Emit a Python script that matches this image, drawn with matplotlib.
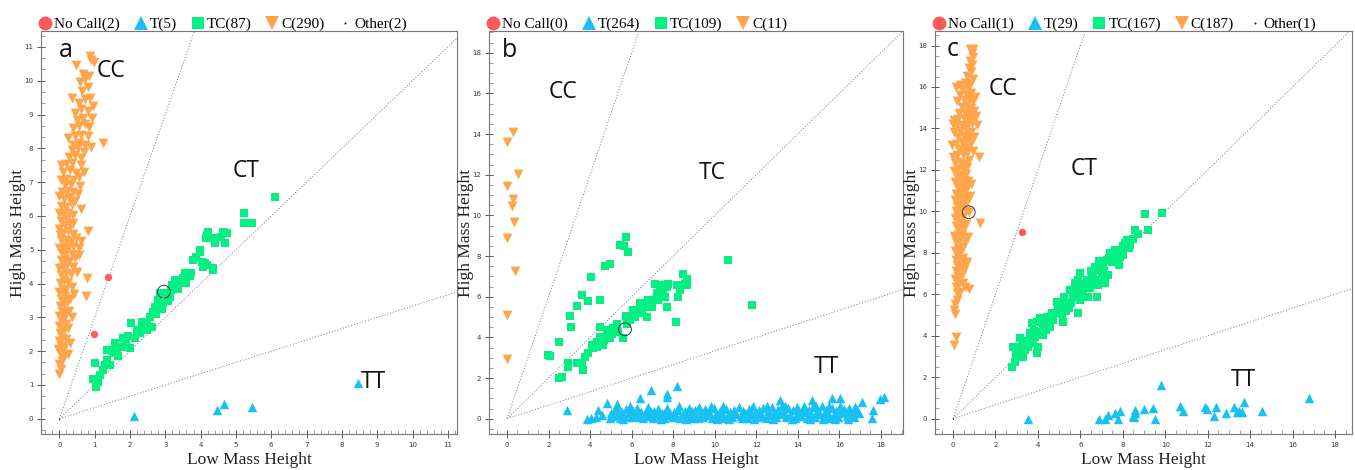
import matplotlib
matplotlib.use('Agg')
import matplotlib.pyplot as plt
from matplotlib.lines import Line2D
from matplotlib.ticker import MultipleLocator

# ---------------- data ----------------
panel_letters = ['a', 'b', 'c']
legend_counts = [
    {'No Call': 2, 'T': 5, 'TC': 87, 'C': 290, 'Other': 2},
    {'No Call': 0, 'T': 264, 'TC': 109, 'C': 11},
    {'No Call': 1, 'T': 29, 'TC': 167, 'C': 187, 'Other': 1},
]
x_ticks = [list(range(0, 12)), list(range(0, 19, 2)), list(range(0, 19, 2))]
y_ticks = [list(range(0, 12)), list(range(0, 19, 2)), list(range(0, 19, 2))]
cluster_slopes = [3.0, 1.0, 1.0 / 3.0]

# Panel a
nocall_a = [(1.37, 4.20), (0.99, 2.50)]
other_a = [(0.0, 0.0), (0.0, 0.0)]
t_a = [(2.10, 0.09), (4.47, 0.26), (4.67, 0.43), (5.46, 0.36), (8.46, 1.07)]
tc_a = [(1.01, 1.64), (0.96, 1.19), (1.03, 0.95), (1.10, 1.10), (1.24, 1.45), (1.34, 1.74),
        (1.43, 1.59), (1.34, 2.03), (1.48, 2.00), (1.57, 2.23), (1.67, 1.85), (1.76, 2.13),
        (1.81, 2.38), (1.90, 2.23), (2.00, 2.08), (2.04, 2.82), (2.19, 2.63), (2.28, 2.53),
        (2.33, 2.87), (2.47, 2.82), (2.56, 3.02), (2.47, 2.63), (2.61, 2.72), (2.71, 3.32),
        (2.80, 3.51), (2.66, 3.17), (2.85, 3.71), (2.94, 3.42), (3.08, 3.47), (3.03, 3.71),
        (3.17, 3.81), (3.27, 4.11), (3.41, 4.01), (3.50, 4.16), (3.60, 4.01), (3.70, 4.21),
        (3.74, 4.31), (3.79, 4.70), (3.88, 4.80), (3.98, 4.99), (4.03, 4.65), (4.12, 4.60),
        (4.17, 5.43), (4.22, 5.53), (4.36, 5.34), (4.36, 4.45), (4.59, 5.39), (4.64, 5.53),
        (4.69, 5.19), (6.10, 6.55), (5.23, 6.08), (5.23, 5.78), (5.46, 5.78), (4.74, 5.51),
        (4.15, 5.34), (4.40, 5.19), (4.07, 4.50), (4.17, 4.55), (4.34, 4.40), (3.98, 4.94),
        (1.15, 1.30), (1.55, 1.95), (1.95, 2.45), (2.15, 2.40), (2.38, 2.70), (2.75, 3.10),
        (2.90, 3.25), (3.12, 3.60), (3.35, 3.85), (3.55, 4.30), (3.20, 3.95), (1.62, 2.05),
        (1.28, 1.60)]
c_a = [(0.00, 1.32), (0.04, 1.48), (-0.02, 1.62), (0.08, 1.70), (0.14, 1.88), (0.24, 1.92),
       (0.02, 1.95), (0.10, 1.80),
       (-0.03, 2.05), (0.05, 2.15), (0.12, 2.10), (0.00, 2.30), (0.08, 2.40), (0.18, 2.35),
       (0.03, 2.55), (0.13, 2.62), (-0.02, 2.75), (0.07, 2.85), (0.20, 2.80), (0.10, 2.95),
       (0.25, 2.70),
       (0.00, 3.05), (0.08, 3.15), (0.18, 3.10), (0.28, 3.20), (0.03, 3.35), (0.14, 3.40),
       (0.22, 3.45), (0.05, 3.55), (0.15, 3.62), (0.30, 3.55), (0.00, 3.75), (0.10, 3.80),
       (0.20, 3.85), (0.75, 3.62), (0.35, 3.90),
       (0.03, 4.02), (0.12, 4.10), (0.25, 4.05), (0.78, 4.15), (0.05, 4.25), (0.18, 4.30),
       (0.32, 4.28), (0.00, 4.45), (0.10, 4.50), (0.22, 4.55), (0.38, 4.48), (0.05, 4.70),
       (0.15, 4.72), (0.28, 4.68), (0.45, 4.75), (0.08, 4.90), (0.20, 4.92), (0.35, 4.88),
       (0.55, 4.85),
       (0.00, 5.05), (0.12, 5.10), (0.25, 5.05), (0.40, 5.12), (0.55, 5.05), (0.05, 5.28),
       (0.18, 5.30), (0.32, 5.25), (0.48, 5.35), (0.82, 5.55), (0.02, 5.45), (0.10, 5.50),
       (0.25, 5.55), (0.38, 5.48), (0.15, 5.72), (0.30, 5.75), (0.05, 5.85), (0.22, 5.90),
       (0.40, 5.80),
       (0.10, 6.05), (0.25, 6.10), (0.40, 6.02), (0.05, 6.30), (0.18, 6.25), (0.35, 6.35),
       (0.12, 6.50), (0.28, 6.55), (0.45, 6.45), (0.08, 6.70), (0.22, 6.75), (0.38, 6.70),
       (0.52, 6.65), (0.15, 6.92), (0.32, 6.95),
       (0.05, 7.05), (0.20, 7.10), (0.40, 7.05), (0.55, 7.15), (0.10, 7.30), (0.30, 7.35),
       (0.48, 7.28), (0.05, 7.52), (0.18, 7.55), (0.35, 7.58), (0.62, 7.50), (0.28, 7.75),
       (0.45, 7.80), (0.60, 7.72), (0.35, 7.95), (0.52, 8.00), (0.70, 7.90),
       (0.38, 8.10), (0.55, 8.15), (0.72, 8.10), (0.90, 8.05), (1.24, 8.16), (0.45, 8.35),
       (0.62, 8.40), (0.80, 8.35), (0.40, 8.60), (0.55, 8.65), (0.72, 8.72), (0.85, 8.62),
       (0.50, 8.85), (0.68, 8.90),
       (0.45, 9.05), (0.62, 9.15), (0.80, 9.10), (0.95, 9.25), (0.55, 9.35), (0.72, 9.45),
       (0.88, 9.50), (0.65, 9.70), (0.80, 9.80), (0.58, 9.95), (0.72, 10.05),
       (0.68, 10.20), (0.85, 10.15), (0.47, 10.45), (0.90, 10.60), (0.99, 10.55), (0.86, 10.72),
       (0.30, 2.25), (0.35, 3.00), (0.42, 3.70), (0.50, 4.35), (0.60, 5.25), (0.62, 6.20),
       (0.58, 6.90), (0.00, 6.10), (0.00, 6.60), (-0.02, 5.60), (0.70, 7.30), (0.25, 8.30),
       (0.35, 9.50), (0.92, 8.90)]
circle_a = (2.96, 3.76)

# Panel b
nocall_b = []
other_b = []
t_b = [(2.91, 0.42), (3.85, 0.00), (4.05, 0.02), (4.30, 0.10), (4.40, 0.42), (4.80, 0.79),
       (5.00, 0.30), (5.10, 0.12), (5.20, 0.45), (5.28, 0.75), (5.35, 0.25), (5.45, 0.05),
       (5.55, 0.35), (5.65, 0.15), (5.75, 0.50), (5.85, 0.28), (5.95, 0.08), (6.05, 0.40),
       (6.15, 0.20), (6.25, 0.55), (6.35, 0.10), (6.41, 1.00), (6.45, 0.32), (6.55, 0.02),
       (6.65, 0.22), (6.75, 0.45), (6.85, 0.15), (6.92, 1.41), (6.95, 0.35), (7.05, 0.05),
       (7.15, 0.25), (7.25, 0.48), (7.35, 0.12), (7.45, 0.30), (7.55, 0.02), (7.65, 0.40),
       (7.72, 1.21), (7.72, 1.05), (7.75, 0.18), (7.85, 0.28), (7.95, 0.08), (8.05, 0.35),
       (8.15, 0.15), (8.17, 1.61), (8.25, 0.45), (8.35, 0.02), (8.45, 0.22), (8.55, 0.38),
       (8.65, 0.10), (8.75, 0.55), (8.85, 0.25), (8.95, 0.05), (9.05, 0.42), (9.15, 0.18),
       (9.25, 0.60), (9.35, 0.30), (9.45, 0.08), (9.55, 0.48), (9.65, 0.20), (9.75, 0.35),
       (9.85, 0.02), (9.95, 0.55), (10.05, 0.25), (10.15, 0.12), (10.25, 0.40), (10.35, 0.30),
       (10.45, 0.05), (10.55, 0.50), (10.65, 0.18), (10.75, 0.35), (10.85, 0.08), (10.95, 0.45),
       (11.05, 0.22), (11.15, 0.60), (11.25, 0.12), (11.35, 0.38), (11.45, 0.28), (11.55, 0.02),
       (11.65, 0.50), (11.75, 0.20), (11.85, 0.65), (11.95, 0.32), (12.05, 0.10), (12.15, 0.45),
       (12.25, 0.25), (12.35, 0.55), (12.45, 0.05), (12.55, 0.38), (12.65, 0.18), (12.75, 0.60),
       (12.85, 0.30), (12.95, 0.10), (13.05, 0.48), (13.15, 0.92), (13.15, 0.22), (13.25, 0.65),
       (13.35, 0.35), (13.45, 0.08), (13.55, 0.52), (13.65, 0.20), (13.75, 0.42), (13.85, 0.05),
       (13.95, 0.60), (14.05, 0.28), (14.15, 0.12), (14.25, 0.50), (14.35, 0.35), (14.45, 0.02),
       (14.55, 0.45), (14.67, 0.92), (14.65, 0.22), (14.75, 0.58), (14.85, 0.10), (14.95, 0.38),
       (15.05, 0.25), (15.15, 0.62), (15.25, 0.15), (15.35, 0.45), (15.45, 0.30), (15.55, 0.05),
       (15.64, 1.00), (15.65, 0.55), (15.75, 0.20), (15.85, 0.40), (15.95, 0.10), (16.04, 1.00),
       (16.05, 0.65), (16.15, 0.28), (16.25, 0.48), (16.35, 0.15), (16.45, 0.55), (16.55, 0.35),
       (16.65, 0.25), (16.75, 0.60), (16.85, 0.45), (17.08, 0.84), (17.56, 0.02), (17.64, 0.43),
       (17.96, 0.95), (18.16, 1.05),
       (4.55, 0.20), (4.95, 0.05), (5.30, 0.58), (5.60, 0.00), (5.90, 0.62), (6.20, 0.35),
       (6.50, 0.15), (6.80, 0.60), (7.10, 0.40), (7.40, 0.00), (7.70, 0.55), (8.00, 0.20),
       (8.30, 0.62), (8.60, 0.00), (8.90, 0.40), (9.20, 0.05), (9.50, 0.30), (9.80, 0.62),
       (10.10, 0.00), (10.40, 0.62), (10.70, 0.00), (11.00, 0.30), (11.30, 0.05), (11.60, 0.35),
       (11.90, 0.00), (12.20, 0.15), (12.50, 0.65), (12.80, 0.00), (13.10, 0.30), (13.40, 0.62),
       (13.70, 0.00), (14.00, 0.45), (14.30, 0.65), (14.60, 0.00), (14.90, 0.65), (15.20, 0.00),
       (15.50, 0.65), (15.80, 0.00), (16.10, 0.45), (16.40, 0.00), (16.70, 0.10), (16.95, 0.30)]
tc_b = [(1.96, 3.13), (2.07, 3.08), (2.52, 1.98), (2.63, 2.06), (2.52, 3.78), (2.95, 2.55),
        (2.95, 2.72), (3.06, 4.52), (3.03, 5.06), (3.36, 2.72), (3.39, 5.54), (3.60, 6.08),
        (3.92, 5.80), (4.03, 6.98), (4.48, 5.86), (4.72, 7.51), (4.96, 7.60), (5.44, 8.53),
        (5.63, 8.48), (5.73, 8.94), (5.84, 8.19), (3.60, 2.72), (3.64, 2.39), (3.76, 3.05),
        (3.92, 3.21), (4.08, 3.62), (4.32, 3.78), (4.48, 4.03), (4.64, 3.62), (4.80, 4.11),
        (4.96, 3.95), (5.12, 4.44), (5.28, 4.68), (5.57, 3.95), (5.36, 4.27), (5.76, 4.68),
        (5.92, 4.85), (6.05, 5.21), (6.16, 5.01), (6.32, 5.37), (6.48, 5.18), (6.65, 5.50),
        (6.76, 5.01), (6.97, 5.50), (7.04, 5.83), (7.21, 6.16), (7.13, 6.62), (7.37, 6.57),
        (7.45, 6.29), (7.61, 5.99), (7.69, 6.49), (7.77, 6.65), (7.69, 5.50), (8.17, 6.57),
        (8.25, 5.99), (8.33, 6.32), (8.14, 4.75), (8.46, 7.14), (8.57, 6.65), (8.65, 6.89),
        (8.68, 6.57), (4.48, 4.52), (4.88, 4.36), (4.16, 3.46), (4.35, 3.54), (4.67, 3.87),
        (5.04, 4.19), (5.20, 4.36), (5.73, 5.04), (6.08, 5.34), (6.40, 5.67), (6.81, 5.86),
        (7.29, 5.83), (7.53, 6.35), (10.65, 7.81), (11.80, 5.58)]
c_b = [(0.27, 14.10), (-0.02, 13.60), (0.55, 12.02), (-0.02, 11.43), (0.27, 10.83),
       (0.24, 10.47), (0.34, 9.66), (-0.02, 8.91), (0.37, 7.26), (-0.02, 5.08), (-0.02, 2.93)]
circle_b = (5.68, 4.40)

# Panel c
nocall_c = [(3.26, 9.00)]
other_c = [(0.0, 0.0)]
t_c = [(3.52, 0.00), (6.90, 0.00), (7.16, 0.00), (7.32, 0.18), (7.64, 0.29), (7.79, 0.00),
       (7.87, 0.37), (8.53, 0.06), (8.58, 0.42), (8.58, 0.29), (9.00, 0.47), (9.41, 0.53),
       (9.54, 0.00), (9.82, 1.62), (10.70, 0.63), (10.82, 0.39), (11.87, 0.58), (11.95, 0.45),
       (12.31, 0.14), (12.39, 0.58), (12.86, 0.29), (13.25, 0.58), (13.37, 0.34), (13.49, 0.39),
       (13.60, 0.34), (13.71, 0.82), (14.54, 0.39), (16.79, 0.98), (8.50, 0.15)]
tc_c = [(2.76, 2.51), (2.92, 2.75), (2.84, 3.47), (3.16, 3.87), (3.31, 2.99), (3.55, 3.47),
        (3.78, 3.64), (4.02, 3.47), (3.86, 3.95), (4.25, 4.03), (3.70, 4.60), (3.94, 4.68),
        (4.57, 4.44), (4.73, 4.76), (4.41, 4.92), (4.80, 5.08), (5.20, 4.68), (4.88, 5.65),
        (5.36, 5.57), (5.67, 5.89), (5.90, 5.08), (5.98, 5.73), (5.51, 6.21), (5.90, 6.69),
        (5.98, 7.02), (6.37, 5.89), (6.45, 6.29), (6.77, 6.69), (6.61, 7.02), (6.92, 7.18),
        (7.16, 6.53), (7.08, 7.34), (7.32, 6.93), (7.24, 7.66), (7.40, 7.98), (7.48, 7.58),
        (7.63, 8.15), (7.87, 7.82), (7.84, 7.42), (8.02, 8.31), (8.10, 8.47), (8.31, 8.23),
        (8.49, 8.67), (8.57, 9.12), (9.20, 9.09), (9.04, 9.85), (9.83, 9.93), (6.14, 6.21),
        (6.29, 6.69), (6.77, 5.89), (5.75, 6.53), (5.04, 5.24), (4.25, 4.44), (4.10, 4.84),
        (3.63, 4.11), (3.31, 3.64), (3.08, 3.15), (3.94, 3.15), (3.00, 3.30), (3.40, 3.30),
        (3.70, 3.90), (4.40, 4.30), (4.65, 5.10), (5.10, 5.50), (5.30, 5.20), (5.55, 5.60),
        (5.80, 6.00), (6.20, 6.50), (6.55, 6.80), (6.90, 7.60), (7.00, 6.90), (7.70, 8.00),
        (8.20, 8.60), (8.00, 7.90), (6.00, 6.10), (6.50, 7.10),
        (2.95, 3.05), (3.20, 3.45), (3.45, 3.75), (3.80, 4.25), (4.05, 4.20), (4.30, 4.65),
        (4.55, 4.90), (4.95, 5.30), (5.25, 5.85), (5.45, 5.35), (5.70, 6.20), (6.05, 6.45),
        (6.40, 6.60), (6.70, 7.30), (7.10, 7.10), (7.35, 7.75), (7.55, 7.80), (7.95, 8.05),
        (8.35, 8.40), (8.70, 8.90), (5.15, 5.05), (4.50, 4.55), (3.50, 3.60), (6.85, 6.45)]
c_c = [(0.06, 3.55), (0.13, 3.95), (0.09, 5.05), (0.06, 5.25), (0.10, 5.55), (0.18, 5.70),
       (0.20, 6.05), (0.35, 6.10), (0.55, 6.35), (0.15, 6.35), (0.28, 6.50), (0.45, 6.55),
       (0.10, 6.75), (0.25, 6.85), (0.40, 6.95), (0.15, 7.10), (0.30, 7.20), (0.50, 7.15),
       (0.20, 7.40), (0.38, 7.45), (0.55, 7.35), (0.12, 7.65), (0.28, 7.70), (0.45, 7.75),
       (0.20, 7.95), (0.35, 8.00), (0.75, 6.25), (0.65, 7.55),
       (0.10, 8.10), (0.25, 8.20), (0.45, 8.30), (0.15, 8.50), (0.35, 8.60), (0.55, 8.55),
       (0.05, 8.80), (0.22, 8.85), (0.40, 8.90), (0.30, 9.10), (0.50, 9.20), (0.15, 9.30),
       (0.35, 9.45), (0.60, 9.40), (1.27, 9.43), (0.10, 9.70), (0.25, 9.80), (0.45, 9.75),
       (0.15, 10.00), (0.35, 10.05), (0.60, 10.00), (0.75, 9.95), (0.70, 8.75),
       (0.20, 10.25), (0.40, 10.30), (0.58, 10.35), (0.10, 10.55), (0.30, 10.60), (0.50, 10.65),
       (0.70, 10.55), (0.15, 10.85), (0.35, 10.90), (0.55, 10.95), (0.25, 11.15), (0.45, 11.20),
       (0.62, 11.10), (0.10, 11.40), (0.30, 11.45), (0.50, 11.50), (0.70, 11.45), (0.20, 11.70),
       (0.40, 11.75), (0.60, 11.80), (0.05, 11.95), (0.85, 11.30), (0.80, 10.75),
       (0.25, 12.05), (0.45, 12.10), (0.65, 12.15), (0.10, 12.35), (0.35, 12.40), (0.55, 12.30),
       (1.22, 12.60), (0.75, 12.50), (0.20, 12.70), (0.45, 12.75), (0.65, 12.80), (0.30, 13.00),
       (0.55, 13.05), (0.75, 13.10), (0.15, 13.25), (0.40, 13.35), (0.60, 13.40), (0.85, 13.35),
       (0.25, 13.60), (0.50, 13.65), (0.70, 13.70), (0.05, 13.85), (0.35, 13.90), (0.60, 13.95),
       (0.85, 13.85), (0.95, 12.90), (1.00, 13.60), (-0.05, 13.20), (0.00, 12.60),
       (0.15, 14.10), (0.40, 14.15), (0.65, 14.20), (0.90, 14.25), (1.15, 14.15), (0.05, 14.40),
       (0.25, 14.45), (0.50, 14.50), (0.75, 14.40), (0.95, 14.55), (0.30, 14.75), (0.55, 14.80),
       (0.80, 14.70), (1.00, 14.85), (0.40, 15.05), (0.65, 15.10), (0.85, 15.00), (0.20, 15.30),
       (0.50, 15.35), (0.75, 15.40), (0.95, 15.30), (0.35, 15.60), (0.60, 15.65), (0.85, 15.70),
       (0.45, 15.90), (0.70, 15.95), (-0.02, 14.20), (1.10, 14.60), (1.05, 15.50),
       (0.15, 16.00), (0.35, 16.10), (0.55, 16.20), (0.80, 16.15), (0.95, 16.40), (0.65, 16.55),
       (0.85, 16.70), (0.75, 16.90), (0.90, 17.05), (0.80, 17.25), (0.95, 17.45), (0.88, 17.65),
       (0.82, 17.85), (0.95, 17.85)]
circle_c = (0.74, 9.96)

cluster_labels = [
    [('CC', 1.46, 10.29), ('CT', 5.28, 7.33), ('TT', 8.88, 1.09)],
    [('CC', 2.70, 16.07), ('TC', 9.87, 12.10), ('TT', 15.37, 2.54)],
    [('CC', 2.36, 15.90), ('CT', 6.20, 12.05), ('TT', 13.66, 1.87)],
]
letter_pos = [(0.18, 10.90), (0.14, 18.10), (0.00, 17.80)]

# ---------------- styling ----------------
COL = {'No Call': '#FF5A5A', 'T': '#17C1F2', 'TC': '#05F082', 'C': '#FFA54C', 'Other': '#222222'}
MARK = {'No Call': 'o', 'T': '^', 'TC': 's', 'C': 'v', 'Other': '.'}
SIZE = {'No Call': 28, 'T': 46, 'TC': 34, 'C': 50, 'Other': 3}

W, H = 1355, 470
fig = plt.figure(figsize=(W / 100, H / 100), dpi=100)

boxes = [(41, 457), (489, 903), (935, 1352)]
top_px, bot_px = 31, 434
limits = [((-0.52, 11.26), (-0.45, 11.47)),
          ((-0.87, 19.07), (-0.75, 19.07)),
          ((-0.85, 18.80), (-0.74, 18.70))]
minors = [(0.2, 1 / 3), (0.5, 0.5), (0.5, 0.5)]

panels = [
    dict(nocall=nocall_a, other=other_a, t=t_a, tc=tc_a, c=c_a, circ=circle_a),
    dict(nocall=nocall_b, other=other_b, t=t_b, tc=tc_b, c=c_b, circ=circle_b),
    dict(nocall=nocall_c, other=other_c, t=t_c, tc=tc_c, c=c_c, circ=circle_c),
]

serif = 'Liberation Serif'
sans = 'Open Sans'

for i, p in enumerate(panels):
    l, r = boxes[i]
    ax = fig.add_axes([l / W, 1 - bot_px / H, (r - l) / W, (bot_px - top_px) / H])
    (x0, x1), (y0, y1) = limits[i]
    ax.set_xlim(x0, x1)
    ax.set_ylim(y0, y1)

    # dotted cluster boundaries from origin
    for s in cluster_slopes:
        xe = min(x1, y1 / s)
        ax.plot([0, xe], [0, s * xe], linestyle=(0, (1.2, 1.8)), color='#8a8a8a', lw=0.7, zorder=1)

    def sc(pts, key, z):
        if not pts:
            return
        xs = [q[0] for q in pts]
        ys = [q[1] for q in pts]
        ax.scatter(xs, ys, s=SIZE[key], marker=MARK[key], c=COL[key], linewidths=0, zorder=z)

    sc(p['c'], 'C', 3)
    sc(p['tc'], 'TC', 3)
    sc(p['t'], 'T', 3)
    sc(p['nocall'], 'No Call', 4)
    sc(p['other'], 'Other', 5)
    ax.scatter([p['circ'][0]], [p['circ'][1]], s=85, facecolors='none', edgecolors='#222222',
               linewidths=0.6, zorder=6)

    for txt, tx, ty in cluster_labels[i]:
        ax.text(tx, ty, txt, fontsize=16.5, family=sans, ha='center', va='center', color='#111111')
    ax.text(letter_pos[i][0], letter_pos[i][1], panel_letters[i], fontsize=18, family=sans,
            ha='center', va='center', color='#111111')

    ax.set_xticks(x_ticks[i])
    ax.set_yticks(y_ticks[i])
    ax.xaxis.set_minor_locator(MultipleLocator(minors[i][0]))
    ax.yaxis.set_minor_locator(MultipleLocator(minors[i][1]))
    ax.tick_params(which='major', direction='inout', length=6, width=0.7, colors='#555555',
                   labelsize=5, labelcolor='#33334d', pad=2.5)
    ax.tick_params(which='minor', direction='in', length=3, width=0.5, colors='#777777')
    for sp in ax.spines.values():
        sp.set_color('#777777')
        sp.set_linewidth(0.8)

    ax.set_xlabel('Low Mass Height', family=serif, fontsize=12.5, color='#222222', labelpad=3)
    ax.set_ylabel('High Mass Height', family=serif, fontsize=12.5, color='#222222', labelpad=-1)

    # legend
    handles = []
    for key, cnt in legend_counts[i].items():
        ms = {'No Call': 10, 'T': 10, 'TC': 9, 'C': 10, 'Other': 3}[key]
        handles.append(Line2D([], [], linestyle='none', marker=MARK[key], markersize=ms,
                              markerfacecolor=COL[key], markeredgewidth=0,
                              label=f'{key}({cnt})'))
    ax.legend(handles=handles, loc='lower left', bbox_to_anchor=(-0.01, 0.995), ncol=len(handles),
              frameon=False, handlelength=0.9, handletextpad=0.15, columnspacing=0.9,
              borderaxespad=0.0, borderpad=0.1, prop={'family': serif, 'size': 11})

fig.savefig('out.png', dpi=100)
